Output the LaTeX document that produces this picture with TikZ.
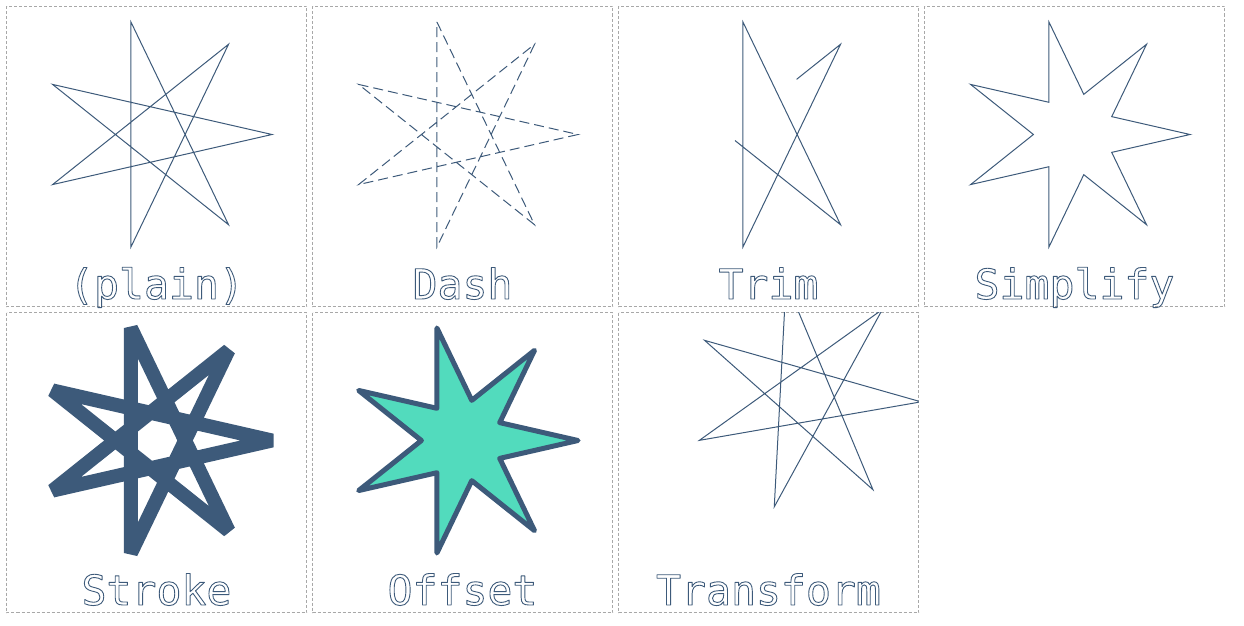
\documentclass[tikz,border=0pt]{standalone}
\usepackage{fontspec}
\setmonofont{DejaVu Sans Mono}
\usepackage{xcolor}
\usetikzlibrary{calc}
\definecolor{ink}{HTML}{3D5A7A}
\definecolor{framegray}{HTML}{A8A8A8}
\definecolor{mint}{HTML}{52DBBD}
\newcommand{\outltxt}[1]{\special{pdf:literal direct 1 Tr 0.9 w 1 j 0.239 0.353 0.478 RG}#1\special{pdf:literal direct 0 Tr}}
% name, cx, cy, rotation
\newcommand{\mkstar}[4]{%
  \foreach \k in {0,...,6}{%
    \coordinate (#1\k) at ({#2+115.4*cos(-\k*360/7+#4)},{#3+115.4*sin(-\k*360/7+#4)});
    \coordinate (#1i\k) at ({#2+41.2*cos(-\k*360/7-180/7+#4)},{#3+41.2*sin(-\k*360/7-180/7+#4)});
  }}
\tikzset{
  panelbox/.style={draw=framegray, line width=0.8pt, dash pattern=on 3pt off 2pt},
  starline/.style={draw=ink, line width=1pt, line join=miter},
  lbl/.style={anchor=base, inner sep=0pt, text=ink, font=\fontsize{41.5}{50}\selectfont\ttfamily},
}
\begin{document}
\begin{tikzpicture}[x=1pt,y=-1pt]
\useasboundingbox (0,0) rectangle (1244,626);
% panels
\foreach \i/\j in {0/0,1/0,2/0,3/0,0/1,1/1,2/1}{
  \draw[panelbox] ({6.5+306*\i},{6.5+306*\j}) rectangle ++(300,300);
}
% star coordinates
\mkstar{a}{156.6}{134.5}{0}
\mkstar{b}{462.6}{134.5}{0}
\mkstar{c}{768.6}{134.5}{0}
\mkstar{d}{1074.6}{134.5}{0}
\mkstar{e}{156.6}{440.5}{0}
\mkstar{f}{462.6}{440.5}{0}
\mkstar{g}{805.8}{395.8}{3}
% (plain)
\draw[starline] (a2) -- (a6) -- (a3) -- (a0) -- (a4) -- (a1) -- (a5) -- cycle;
% Dash
\draw[starline, dash pattern=on 10pt off 5pt] (b2) -- (b6) -- (b3) -- (b0) -- (b4) -- (b1) -- (b5) -- cycle;
% Trim
\coordinate (ct1) at ($(c6)!0.6!(c3)$);
\coordinate (ct2) at ($(c4)!0.75!(c1)$);
\draw[starline] (ct2) -- (c1) -- (c5) -- (c2) -- (c6) -- (ct1);
% Simplify
\draw[starline] (d0) -- (di0) -- (d1) -- (di1) -- (d2) -- (di2) -- (d3) -- (di3) -- (d4) -- (di4) -- (d5) -- (di5) -- (d6) -- (di6) -- cycle;
% Stroke
\draw[draw=ink, line width=14pt, line join=bevel] (e2) -- (e6) -- (e3) -- (e0) -- (e4) -- (e1) -- (e5) -- cycle;
% Offset
\draw[draw=ink, fill=mint, line width=5pt, line join=round] (f0) -- (fi0) -- (f1) -- (fi1) -- (f2) -- (fi2) -- (f3) -- (fi3) -- (f4) -- (fi4) -- (f5) -- (fi5) -- (f6) -- (fi6) -- cycle;
% Transform
\begin{scope}
\clip (618.5,312.5) rectangle ++(300,300);
\draw[starline] (g2) -- (g6) -- (g3) -- (g0) -- (g4) -- (g1) -- (g5) -- cycle;
\end{scope}
% labels
\node[lbl] (l1) at (156.5,299) {\outltxt{(plain)}};
\node[lbl] (l2) at (462.5,299) {\outltxt{Dash}};
\node[lbl] (l3) at (768.5,299) {\outltxt{Trim}};
\node[lbl] (l4) at (1074.5,299) {\outltxt{Simplify}};
\node[lbl] (l5) at (156.5,605) {\outltxt{Stroke}};
\node[lbl] (l6) at (462.5,605) {\outltxt{Offset}};
\node[lbl] (l7) at (768.5,605) {\outltxt{Transform}};
\end{tikzpicture}
\end{document}
